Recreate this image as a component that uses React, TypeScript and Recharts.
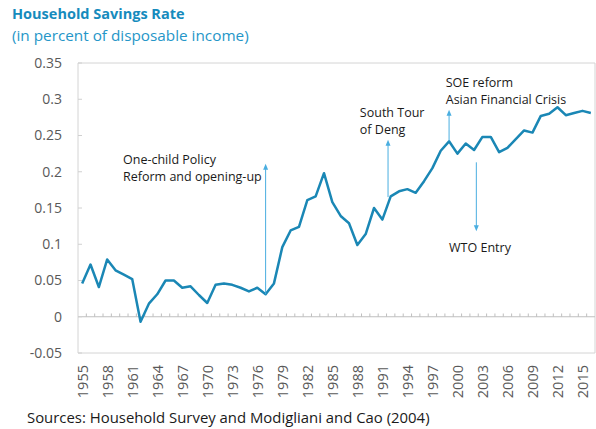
import { LineChart, Line, XAxis, YAxis, ReferenceLine, ReferenceArea, ReferenceDot } from 'recharts'

// Household savings rate, share of disposable income
const years = [
  1955, 1956, 1957, 1958, 1959, 1960, 1961, 1962, 1963, 1964,
  1965, 1966, 1967, 1968, 1969, 1970, 1971, 1972, 1973, 1974,
  1975, 1976, 1977, 1978, 1979, 1980, 1981, 1982, 1983, 1984,
  1985, 1986, 1987, 1988, 1989, 1990, 1991, 1992, 1993, 1994,
  1995, 1996, 1997, 1998, 1999, 2000, 2001, 2002, 2003, 2004,
  2005, 2006, 2007, 2008, 2009, 2010, 2011, 2012, 2013, 2014,
  2015, 2016
]

const savingsRate = [
  0.046, 0.072, 0.041, 0.079, 0.064, 0.058, 0.052, -0.007, 0.018, 0.031,
  0.050, 0.050, 0.040, 0.042, 0.030, 0.019, 0.044, 0.046, 0.044, 0.040,
  0.035, 0.040, 0.031, 0.046, 0.096, 0.119, 0.124, 0.161, 0.166, 0.198,
  0.158, 0.139, 0.129, 0.099, 0.114, 0.150, 0.134, 0.166, 0.173, 0.176,
  0.171, 0.187, 0.205, 0.229, 0.242, 0.225, 0.239, 0.230, 0.248, 0.248,
  0.227, 0.233, 0.245, 0.257, 0.254, 0.277, 0.280, 0.289, 0.278, 0.281,
  0.284, 0.281
]

const xTicks = [1955, 1958, 1961, 1964, 1967, 1970, 1973, 1976, 1979, 1982, 1985, 1988, 1991, 1994, 1997, 2000, 2003, 2006, 2009, 2012, 2015]
const yTicks = [-0.05, 0, 0.05, 0.1, 0.15, 0.2, 0.25, 0.3, 0.35]

// event notes: text anchor and arrow in data coordinates
const notes = [
  { lines: ['One-child Policy', 'Reform and opening-up'], x: 1959.9, y: 0.211, from: [1977, 0.031], to: [1977, 0.211] },
  { lines: ['South Tour', 'of Deng'], x: 1988.3, y: 0.276, from: [1991.68, 0.165], to: [1991.68, 0.244] },
  { lines: ['SOE reform', 'Asian Financial Crisis'], x: 1998.6, y: 0.317, from: [1999, 0.242], to: [1999, 0.2855] },
  { lines: ['WTO Entry'], x: 1999.0, y: 0.089, from: [2002.27, 0.213], to: [2002.27, 0.118] }
]

const data = years.map((year, i) => ({ year, rate: savingsRate[i] }))

const FONT = '"Open Sans", "Noto Sans", sans-serif'
const BLUE = '#1a87b5'
const ARROW = '#4aaee0'

const Arrow = (props: any) => {
  const { x1, y1, x2, y2 } = props
  const dir = y2 < y1 ? 1 : -1
  return (
    <g>
      <line x1={x1} y1={y1} x2={x2} y2={y2 + dir * 4} stroke={ARROW} strokeWidth={1} />
      <path d={`M${x2},${y2} L${x2 - 2.5},${y2 + dir * 6} L${x2 + 2.5},${y2 + dir * 6} Z`} fill={ARROW} />
    </g>
  )
}

const XTick = ({ x, y, payload }: any) => (
  <text
    x={x}
    y={y}
    transform={`rotate(-90 ${x} ${y})`}
    textAnchor="end"
    dominantBaseline="central"
    fill="#595959"
    fontSize={14.5}
    fontFamily={FONT}
  >
    {payload.value}
  </text>
)

export default function App() {
  return (
    <div style={{ position: 'absolute', left: 0, top: 0, width: 596, height: 429, background: '#fff', fontFamily: FONT }}>
      <div style={{ position: 'absolute', left: 12, top: 7, fontSize: 14.5, lineHeight: 1, fontWeight: 700, color: '#168bbd', whiteSpace: 'nowrap' }}>
        Household Savings Rate
      </div>
      <div style={{ position: 'absolute', left: 12, top: 28.3, fontSize: 15.3, lineHeight: 1, color: '#2596c8', whiteSpace: 'nowrap' }}>
        (in percent of disposable income)
      </div>
      <LineChart width={596} height={429} data={data} margin={{ top: 63, right: 1, left: 0, bottom: 30 }}>
        <XAxis
          dataKey="year"
          type="number"
          domain={[1954.5, 2016.5]}
          ticks={xTicks}
          interval={0}
          tick={<XTick />}
          tickLine={false}
          axisLine={false}
          tickSize={0}
          tickMargin={12}
          height={46}
        />
        <YAxis
          domain={[-0.05, 0.35]}
          ticks={yTicks}
          interval={0}
          width={78}
          axisLine={false}
          tickSize={-4}
          tickMargin={20}
          tickLine={{ stroke: '#d0d0d0' }}
          tick={{ fill: '#595959', fontSize: 14, fontFamily: FONT }}
          tickFormatter={(v: number) => String(v)}
        />
        <ReferenceArea x1={1954.5} x2={2016.5} y1={-0.05} y2={0.35} stroke="#d4d4d4" strokeWidth={1} fill="none" />
        <ReferenceLine y={0} stroke="#bfbfbf" strokeWidth={1} />
        {years.slice(0, -1).map((yr) => (
          <ReferenceLine
            key={`t${yr}`}
            segment={[{ x: yr + 0.5, y: 0 }, { x: yr + 0.5, y: 0.0045 }]}
            stroke="#bfbfbf"
            strokeWidth={1}
          />
        ))}
        <Line
          type="linear"
          dataKey="rate"
          stroke={BLUE}
          strokeWidth={2.5}
          strokeLinejoin="round"
          dot={false}
          isAnimationActive={false}
        />
        {notes.map((n, i) => (
          <ReferenceLine
            key={`a${i}`}
            segment={[{ x: n.from[0], y: n.from[1] }, { x: n.to[0], y: n.to[1] }]}
            shape={<Arrow />}
          />
        ))}
        {notes.map((n, i) => (
          <ReferenceDot
            key={`n${i}`}
            x={n.x}
            y={n.y}
            r={0}
            shape={(p: any) => (
              <text x={p.cx} y={p.cy} fontSize={12.5} fontFamily={FONT} fill="#1a1a1a">
                {n.lines.map((l, j) => (
                  <tspan key={j} x={p.cx} dy={j === 0 ? 0 : 17}>
                    {l}
                  </tspan>
                ))}
              </text>
            )}
          />
        ))}
      </LineChart>
      <div style={{ position: 'absolute', left: 27, top: 409.5, fontSize: 14.9, lineHeight: 1, color: '#1a1a1a', whiteSpace: 'nowrap' }}>
        Sources: Household Survey and Modigliani and Cao (2004)
      </div>
    </div>
  )
}
